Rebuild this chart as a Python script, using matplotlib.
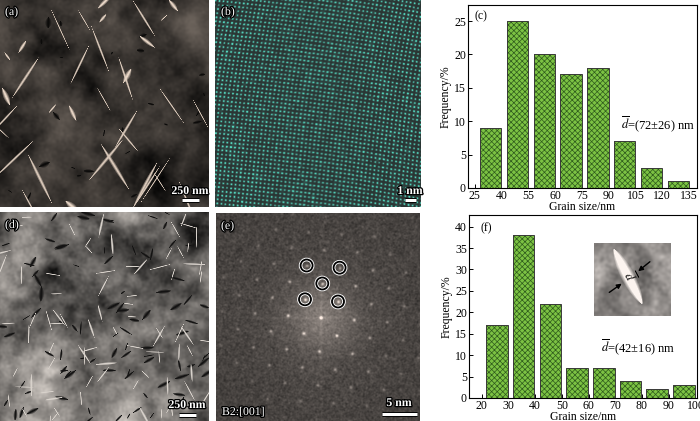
import numpy as np
import matplotlib
matplotlib.use('Agg')
import matplotlib.pyplot as plt
import matplotlib.patheffects as pe
from matplotlib.patches import Circle
from matplotlib.colors import LinearSegmentedColormap

plt.rcParams['font.family'] = ['Liberation Serif', 'DejaVu Serif']
plt.rcParams['mathtext.fontset'] = 'stix'
plt.rcParams['hatch.linewidth'] = 0.5

# (c) grain size distribution
c_labels = ['25', '40', '55', '60', '75', '90', '105', '120', '135']
c_freq = [9, 25, 20, 17, 18, 7, 3, 1]
c_mean = r'$\overline{d}$=(72±26) nm'

# (f) grain size distribution
f_labels = ['20', '30', '40', '50', '60', '70', '80', '90', '100']
f_freq = [17, 38, 22, 7, 7, 4, 2, 3]
f_mean = r'$\overline{d}$=(42±16) nm'

W, H = 700, 421
fig = plt.figure(figsize=(7, 4.21), dpi=100)
rng = np.random.default_rng(11)
outline = [pe.withStroke(linewidth=1.8, foreground='black')]


def panel(x0, y0, x1, y1):
    ax = fig.add_axes([x0 / W, 1 - y1 / H, (x1 - x0) / W, (y1 - y0) / H])
    return ax


def image_panel(x0, y0, x1, y1):
    ax = panel(x0, y0, x1, y1)
    ax.set_xticks([])
    ax.set_yticks([])
    for s in ax.spines.values():
        s.set_visible(False)
    return ax


def blur_noise(ny, nx, sigma):
    f = np.fft.fft2(rng.standard_normal((ny, nx)))
    kx, ky = np.meshgrid(np.fft.fftfreq(nx), np.fft.fftfreq(ny))
    g = np.real(np.fft.ifft2(f * np.exp(-2 * (np.pi * sigma) ** 2 * (kx ** 2 + ky ** 2))))
    return (g - g.mean()) / g.std()


def add_needles(img, count, angles, lmin, lmax, wfrac, val, spread=8):
    ny, nx = img.shape
    yy, xx = np.mgrid[0:ny, 0:nx]
    for _ in range(count):
        cx, cy = rng.uniform(0, nx), rng.uniform(0, ny)
        th = np.deg2rad(rng.choice(angles) + rng.normal(0, spread))
        L = rng.uniform(lmin, lmax)
        w = max(L * wfrac * rng.uniform(0.5, 1.5), 0.7)
        u = (xx - cx) * np.cos(th) + (yy - cy) * np.sin(th)
        v = -(xx - cx) * np.sin(th) + (yy - cy) * np.cos(th)
        t = np.clip(1 - (u / L) ** 2, 0, None)
        prof = np.clip(1.2 - np.abs(v) / (w * t + 1e-6), 0, 1) * (t > 0)
        img[:] = img + (val - img) * prof


def show(ax, img, box):
    x0, y0, x1, y1 = box
    ax.imshow(np.clip(img, 0, 1), extent=(x0, x1, y1, y0), aspect='auto')
    ax.set_xlim(x0, x1)
    ax.set_ylim(y1, y0)


def tag(ax, x, y, s, size=8.5):
    ax.text(x, y, s, color='white', fontsize=size, ha='left', va='center',
            path_effects=outline)


def scalebar(ax, xc, ytext, ybar, length, s):
    ax.text(xc, ytext, s, color='white', fontsize=8.5, ha='center', va='center',
            fontweight='bold', path_effects=outline)
    ax.plot([xc - length / 2, xc + length / 2], [ybar, ybar], color='white', lw=2.2,
            solid_capstyle='butt', path_effects=[pe.withStroke(linewidth=3.6, foreground='black')])


# ---- (a) TEM bright field
box = (0, 0, 209, 207)
ax = image_panel(*box)
ny, nx = box[3] - box[1], box[2] - box[0]
base = 0.22 + 0.05 * blur_noise(ny, nx, 18) + 0.03 * blur_noise(ny, nx, 5) + 0.01 * blur_noise(ny, nx, 1.2)
add_needles(base, 25, [-35, 25, 80], 2, 6, 0.4, 0.05, spread=40)
add_needles(base, 24, [60, 60, 120], 10, 30, 0.05, 0.85, spread=8)
add_needles(base, 12, [55, 130], 5, 11, 0.22, 0.9, spread=10)
base = np.clip(base, 0, 1)
show(ax, np.dstack([base * 1.0, base * 0.92, base * 0.85]), box)
tag(ax, 5, 12, '(a)')
scalebar(ax, 190, 191, 200, 17, '250 nm')

# ---- (b) HRTEM lattice
box = (215, 0, 420, 207)
ax = image_panel(*box)
ny, nx = box[3] - box[1], box[2] - box[0]
yy, xx = np.mgrid[0:ny, 0:nx].astype(float)
th = np.deg2rad(8)
xw = xx + 2.5 * np.sin(yy / 55)
yw = yy + 2.5 * np.sin(xx / 65)
u = xw * np.cos(th) + yw * np.sin(th)
v = -xw * np.sin(th) + yw * np.cos(th)
p = 4.1
lat = (np.cos(2 * np.pi * u / p) + 1) * (np.cos(2 * np.pi * v / p) + 1) / 4
lat = np.clip(lat + 0.08 * blur_noise(ny, nx, 1.0), 0, 1)
teal = LinearSegmentedColormap.from_list('teal', ['#2a3634', '#3b6660', '#52d6bc'])
show(ax, teal(lat)[..., :3], box)
tag(ax, 221, 12, '(b)')
scalebar(ax, 410, 191, 200, 11, '1 nm')

# ---- (d) TEM bright field
box = (0, 212, 209, 421)
ax = image_panel(*box)
ny, nx = box[3] - box[1], box[2] - box[0]
yy, xx = np.mgrid[0:ny, 0:nx].astype(float)
base = 0.40 + 0.09 * blur_noise(ny, nx, 14) + 0.05 * blur_noise(ny, nx, 4) + 0.02 * blur_noise(ny, nx, 1.2)
base = base + 0.12 * (yy / ny) - 0.06 * (xx / nx)
add_needles(base, 90, [-30, 20, 150, 100], 3, 8, 0.25, 0.08, spread=25)
add_needles(base, 80, [60, 120, 0, 90], 5, 13, 0.08, 0.85, spread=8)
base = np.clip(base, 0, 1)
show(ax, np.dstack([base * 1.0, base * 0.97, base * 0.94]), box)
tag(ax, 5, 225, '(d)')
scalebar(ax, 187, 405, 415, 17, '250 nm')

# ---- (e) FFT pattern
box = (216, 213, 420, 421)
ax = image_panel(*box)
ny, nx = box[3] - box[1], box[2] - box[0]
yy, xx = np.mgrid[0:ny, 0:nx].astype(float)
xx = xx + box[0]
yy = yy + box[1]
cen = np.array([320.7, 317.3])
uvec = np.array([17.3, -15.8])
vvec = np.array([-15.7, -18.0])
r = np.hypot(xx - cen[0], yy - cen[1])
fft = 0.26 + 0.025 * blur_noise(ny, nx, 0.7) + 0.18 * np.exp(-(r / 35) ** 2) + 0.08 * np.exp(-r / 80)
fft += 0.05 * np.exp(-((xx - cen[0]) / 1.5) ** 2) * np.exp(-r / 120)
fft += 0.05 * np.exp(-((yy - cen[1]) / 1.5) ** 2) * np.exp(-r / 120)
for i in range(-4, 5):
    for j in range(-4, 5):
        pos = cen + i * uvec + j * vvec
        d = np.hypot(*(pos - cen))
        if d > 110:
            continue
        amp = 0.8 * np.exp(-d / 60)
        if i == 0 and j == 0:
            amp = 0.7
        fft += amp * np.exp(-((xx - pos[0]) ** 2 + (yy - pos[1]) ** 2) / 2.5)
fft = np.clip(fft, 0, 1)
show(ax, np.dstack([fft * 1.0, fft * 0.94, fft * 0.9]), box)
for i, j in [(1, 2), (2, 1), (1, 1), (0, 1), (1, 0)]:
    pos = cen + i * uvec + j * vvec
    ax.add_patch(Circle(pos, 6, fill=False, ec='white', lw=2.6))
    ax.add_patch(Circle(pos, 6, fill=False, ec='black', lw=1.3))
tag(ax, 221, 226, '(e)')
ax.text(222, 412, 'B2:[001]', color='white', fontsize=8.5, ha='left', va='center',
        path_effects=outline)
scalebar(ax, 399, 403, 414, 35, '5 nm')


# ---- histograms
def histo(box, labels, freq, off, width, xlim, ylim, yticks, mean, mean_xy, letter, letter_xy):
    ax = panel(*box)
    idx = np.arange(len(freq))
    ax.bar(idx + off, freq, width, color='#7cc243', edgecolor='#2e5a1c', hatch='xxxxxx',
           linewidth=0, zorder=2)
    ax.bar(idx + off, freq, width, facecolor='none', edgecolor='#3a3a3a', linewidth=0.7, zorder=3)
    ax.set_xticks(np.arange(len(labels)), labels)
    ax.set_yticks(yticks)
    ax.set_xlim(*xlim)
    ax.set_ylim(*ylim)
    ax.tick_params(direction='in', length=3, width=0.7, labelsize=8.5, pad=1.5)
    for s in ax.spines.values():
        s.set_linewidth(0.8)
    ax.set_xlabel('Grain size/nm', fontsize=8.5, labelpad=-1)
    ax.set_ylabel('Frequency/%', fontsize=8.5, labelpad=2)
    ax.text(*mean_xy, mean, transform=ax.transAxes, fontsize=9, ha='center', va='center')
    ax.text(*letter_xy, letter, transform=ax.transAxes, fontsize=8.5, ha='left', va='center')
    return ax


histo((468, 5, 697, 188), c_labels, c_freq, 0.6, 0.8, (-0.25, 8.3), (0, 27.4),
      [0, 5, 10, 15, 20, 25], c_mean, (0.83, 0.35), '(c)', (0.03, 0.94))
histo((469, 215, 697, 398), f_labels, f_freq, 0.57, 0.81, (-0.475, 8.06), (0, 42.7),
      [0, 5, 10, 15, 20, 25, 30, 35, 40], f_mean, (0.74, 0.28), '(f)', (0.05, 0.93))

# inset in (f)
box = (594, 243, 671, 316)
ax = image_panel(*box)
ny, nx = box[3] - box[1], box[2] - box[0]
yy, xx = np.mgrid[0:ny, 0:nx].astype(float)
ins = 0.56 + 0.07 * blur_noise(ny, nx, 6) + 0.03 * blur_noise(ny, nx, 1.5)
ins -= 0.15 * np.exp(-(((xx - 50) / 10) ** 2 + ((yy - 55) / 12) ** 2))
ins -= 0.10 * np.exp(-(((xx - 15) / 14) ** 2 + ((yy - 45) / 10) ** 2))
ccx, ccy, L, w = 33.5, 33, 31, 7.0
th = np.arctan2(48, 25)
u = (xx - ccx) * np.cos(th) + (yy - ccy) * np.sin(th)
v = -(xx - ccx) * np.sin(th) + (yy - ccy) * np.cos(th)
t = np.clip(1 - (u / L) ** 2, 0, None) ** 0.7
ins = ins + (0.99 - ins) * np.clip(2.0 - np.abs(v) / (0.5 * w * t + 1e-6), 0, 1) * (t > 0)
ins = np.clip(ins, 0, 1)
show(ax, np.dstack([ins, ins * 0.97, ins * 0.95]), box)
ax.annotate('', xy=(624, 282), xytext=(607, 294),
            arrowprops=dict(arrowstyle='-|>', color='black', lw=1.0, mutation_scale=7))
ax.annotate('', xy=(636, 273), xytext=(652, 260),
            arrowprops=dict(arrowstyle='-|>', color='black', lw=1.0, mutation_scale=7))
ax.text(629.5, 277, r'$\overline{d}$', fontsize=9, rotation=-62, ha='center', va='center')

fig.savefig('out.png', dpi=100)
